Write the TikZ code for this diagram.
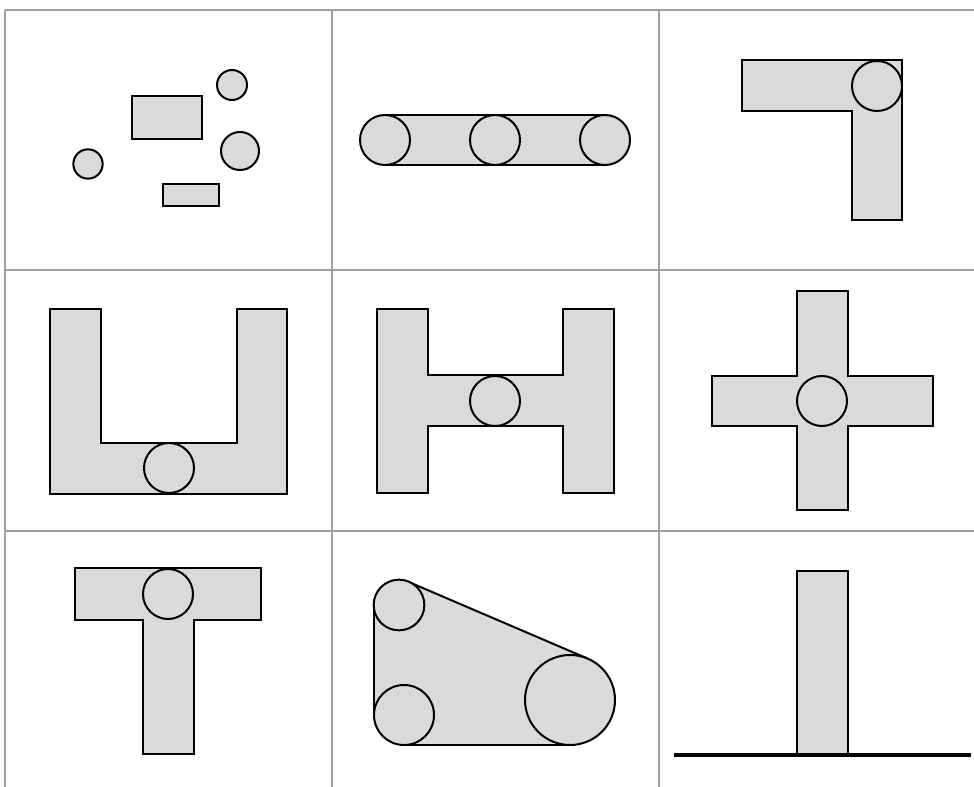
\documentclass[tikz,border=0pt]{standalone}
\usepackage{tikz}
\definecolor{shapefill}{RGB}{218,218,218}
\definecolor{gridgray}{RGB}{160,160,160}
\tikzset{
  part/.style={fill=shapefill, draw=black, line width=1.5pt, line join=miter},
  fillonly/.style={fill=shapefill},
  edge/.style={draw=black, line width=1.5pt},
  gridline/.style={draw=gridgray, line width=0.9pt},
  ground/.style={draw=black, line width=3pt}
}
\begin{document}
\begin{tikzpicture}[x=0.75pt,y=-0.75pt]
\useasboundingbox (0,0) rectangle (974,787);
% grid
\draw[gridline] (5,10) -- (974,10);
\draw[gridline] (5,270) -- (974,270);
\draw[gridline] (5,531) -- (974,531);
\draw[gridline] (5,10) -- (5,787);
\draw[gridline] (332,10) -- (332,787);
\draw[gridline] (659,10) -- (659,787);

% cell 1
\draw[part] (132,96) rectangle (202,139);
\draw[part] (163,184) rectangle (219,206);
\draw[part] (88,164) circle[radius=11pt];
\draw[part] (232,85) circle[radius=11.25pt];
\draw[part] (240,151) circle[radius=14.25pt];

% cell 2
\fill[fillonly] (385,115) rectangle (605,165);
\draw[edge] (385,115) -- (605,115);
\draw[edge] (385,165) -- (605,165);
\draw[part] (385,140) circle[radius=18.75pt];
\draw[part] (495,140) circle[radius=18.75pt];
\draw[part] (605,140) circle[radius=18.75pt];

% cell 3
\draw[part] (742,60) -- (902,60) -- (902,220) -- (852,220) -- (852,111) -- (742,111) -- cycle;
\draw[part] (877,86) circle[radius=18.75pt];

% cell 4
\draw[part] (50,309) -- (101,309) -- (101,443) -- (237,443) -- (237,309) -- (287,309) -- (287,494) -- (50,494) -- cycle;
\draw[part] (169,468) circle[radius=18.75pt];

% cell 5
\draw[part] (377,309) -- (428,309) -- (428,375) -- (563,375) -- (563,309) -- (614,309) -- (614,493) -- (563,493) -- (563,426) -- (428,426) -- (428,493) -- (377,493) -- cycle;
\draw[part] (495,401) circle[radius=18.75pt];

% cell 6
\draw[part] (797,291) -- (848,291) -- (848,376) -- (933,376) -- (933,426) -- (848,426) -- (848,510) -- (797,510) -- (797,426) -- (712,426) -- (712,376) -- (797,376) -- cycle;
\draw[part] (822,401) circle[radius=18.75pt];

% cell 7
\draw[part] (75,568) -- (261,568) -- (261,620) -- (194,620) -- (194,754) -- (143,754) -- (143,620) -- (75,620) -- cycle;
\draw[part] (168,594) circle[radius=18.75pt];

% cell 8
\fill[fillonly] (374,605) -- (408.8,582) -- (587.7,658.6) -- (615,700) -- (570,745) -- (404,745) -- (374,715) -- cycle;
\draw[edge] (408.8,582) -- (587.7,658.6);
\draw[edge] (374,605) -- (374,715);
\draw[edge] (404,745) -- (570,745);
\draw[part] (399,605) circle[radius=19pt];
\draw[part] (404,715) circle[radius=22.5pt];
\draw[part] (570,700) circle[radius=33.75pt];

% cell 9
\draw[part] (797,571) rectangle (848,755);
\draw[ground] (674,755) -- (971,755);
\end{tikzpicture}
\end{document}
